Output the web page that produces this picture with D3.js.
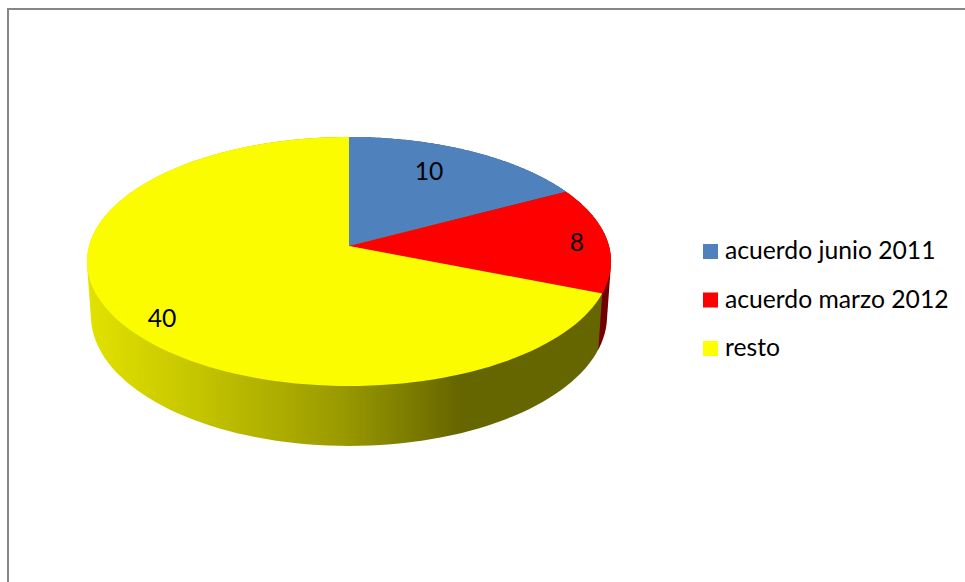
<!DOCTYPE html>
<html>
<head>
<meta charset="utf-8">
<script src="https://cdn.jsdelivr.net/npm/d3@7"></script>
<style>
  html, body { margin: 0; padding: 0; background: #fff; overflow: hidden; }
  svg { display: block; }
  text { font-family: Lato, "Open Sans", sans-serif; fill: #000; }
</style>
</head>
<body>
<svg id="chart" width="965" height="582"></svg>
<script>
const categories = ["acuerdo junio 2011", "acuerdo marzo 2012", "resto"];
const values = [10, 8, 40];
const colors = ["#4f81bd", "#ff0000", "#fcfc00"];
const legendColors = ["#4f81bd", "#ff0000", "#ffff00"];
const sideColors = ["#2f4d71", "#720000", "url(#sideYellow)"];

const width = 965;
const height = 582;
const svg = d3.select("#chart");

// perspective disc: k is the tilt, front of the disc looks bigger
const k = 0.1245;
const topFace = { cx: 349, cy: 246, rx: 260, ry: 122.6 };
const bottomFace = { cx: 349, cy: 300, rx: 256, ry: 127.8 };

function project(face, a) {
  const u = Math.sin(a);
  const v = -Math.cos(a);
  const w = 1 - k * v;
  return [face.cx + face.rx * u / w, face.cy + face.ry * v / w];
}

function arcPoints(face, a0, a1) {
  return d3.range(0, 121).map(i => project(face, a0 + (a1 - a0) * i / 120));
}

const line = d3.line();
const pie = d3.pie().sort(null);
const slices = pie(values);

// frame
svg.append("path")
  .attr("d", `M8,${height}V9H${width}`)
  .attr("fill", "none")
  .attr("stroke", "#868686")
  .attr("stroke-width", 2);

// shading of the yellow side
const grad = svg.append("defs").append("linearGradient")
  .attr("id", "sideYellow")
  .attr("gradientUnits", "userSpaceOnUse")
  .attr("x1", 87).attr("x2", 611).attr("y1", 0).attr("y2", 0);
[[0, "#e2e200"], [0.216, "#c4c400"], [0.483, "#9a9a00"], [0.71, "#666600"], [1, "#666600"]]
  .forEach(s => grad.append("stop").attr("offset", s[0]).attr("stop-color", s[1]));

// sides first, top face goes over them
// hull closes the gap between top and bottom rim at the left and right edges
svg.append("g").selectAll("path")
  .data(slices)
  .enter()
  .append("path")
  .attr("d", d => line(d3.polygonHull(arcPoints(topFace, d.startAngle, d.endAngle)
    .concat(arcPoints(bottomFace, d.startAngle, d.endAngle)))) + "Z")
  .attr("fill", (d, i) => sideColors[i]);

svg.append("g").selectAll("path")
  .data(slices)
  .enter()
  .append("path")
  .attr("d", d => line([[topFace.cx, topFace.cy]]
    .concat(arcPoints(topFace, d.startAngle, d.endAngle))) + "Z")
  .attr("fill", (d, i) => colors[i]);

// data labels
const labelPos = [[429, 180], [577, 251], [162, 327]];
svg.append("g").selectAll("text")
  .data(values)
  .enter()
  .append("text")
  .attr("x", (d, i) => labelPos[i][0])
  .attr("y", (d, i) => labelPos[i][1])
  .attr("text-anchor", "middle")
  .style("font-size", "24.7px")
  .text(d => d);

// legend
const legendY = d3.scalePoint().domain(categories).range([259, 356]);
const legend = svg.append("g").selectAll("g")
  .data(categories)
  .enter()
  .append("g");

legend.append("rect")
  .attr("x", 703)
  .attr("y", d => legendY(d) - 15)
  .attr("width", 15)
  .attr("height", 15)
  .attr("fill", (d, i) => legendColors[i]);

legend.append("text")
  .attr("x", 725)
  .attr("y", d => legendY(d))
  .style("font-size", "24.7px")
  .text(d => d);
</script>
</body>
</html>
